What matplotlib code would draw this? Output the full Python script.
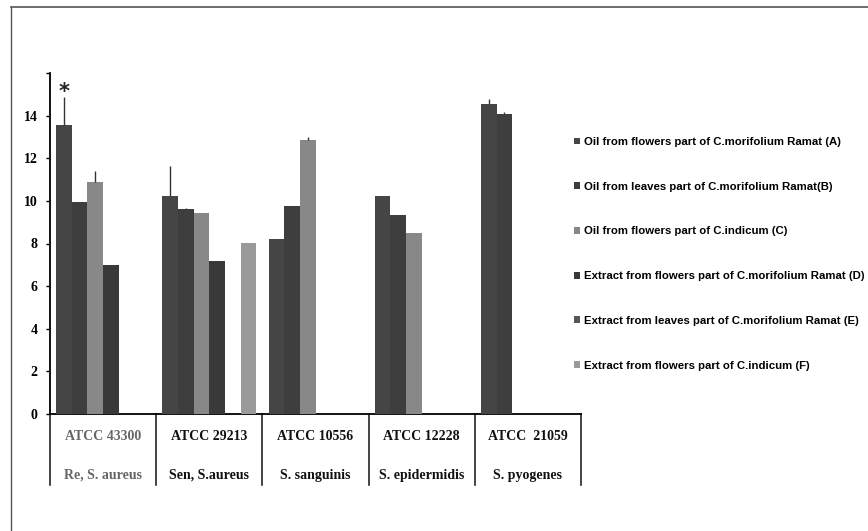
import numpy as np
import matplotlib
matplotlib.use("Agg")
import matplotlib.pyplot as plt
from matplotlib.patches import Patch
from matplotlib.lines import Line2D

# Strains and species (two-row category table under the bars)
strain_codes = ["ATCC 43300", "ATCC 29213", "ATCC 10556", "ATCC 12228", "ATCC  21059"]
species = ["Re, S. aureus", "Sen, S.aureus", "S. sanguinis", "S. epidermidis", "S. pyogenes"]

series_labels = [
    "Oil from flowers part of C.morifolium Ramat (A)",
    "Oil from leaves part of C.morifolium Ramat(B)",
    "Oil from flowers part of C.indicum (C)",
    "Extract from flowers part of C.morifolium Ramat (D)",
    "Extract from leaves part of C.morifolium Ramat (E)",
    "Extract from flowers part of C.indicum (F)",
]

# Inhibition zone values per strain (0 = no bar)
vals_A = [13.55, 10.22, 8.20, 10.22, 14.55]
vals_B = [9.93, 9.60, 9.77, 9.33, 14.08]
vals_C = [10.90, 9.43, 12.86, 8.48, 0.0]
vals_D = [7.00, 7.20, 0.0, 0.0, 0.0]
vals_E = [0.0, 0.0, 0.0, 0.0, 0.0]
vals_F = [0.0, 8.04, 0.0, 0.0, 0.0]

# Upper error extents
err_A = [1.32, 1.42, 0.0, 0.0, 0.25]
err_B = [0.0, 0.05, 0.0, 0.0, 0.10]
err_C = [0.52, 0.0, 0.12, 0.0, 0.0]
err_D = [0.0, 0.0, 0.0, 0.0, 0.0]
err_E = [0.0, 0.0, 0.0, 0.0, 0.0]
err_F = [0.0, 0.0, 0.0, 0.0, 0.0]

values = [vals_A, vals_B, vals_C, vals_D, vals_E, vals_F]
errors = [err_A, err_B, err_C, err_D, err_E, err_F]
colors = ["#454545", "#3e3e3e", "#888888", "#393939", "#575757", "#9a9a9a"]

fig = plt.figure(figsize=(8.68, 5.31), dpi=100)
ax = fig.add_axes([50 / 868, 1 - 414 / 531, 531 / 868, 341 / 531])

n = len(strain_codes)
x = np.arange(n)
bw = 0.147
offsets = (np.arange(6) - 2.5) * bw

for i, (v, e, c) in enumerate(zip(values, errors, colors)):
    v = np.asarray(v)
    e = np.asarray(e)
    mask = v > 0
    ax.bar(x[mask] + offsets[i], v[mask], width=bw, color=c, zorder=3, linewidth=0)
    emask = mask & (e > 0)
    if emask.any():
        ax.errorbar(x[emask] + offsets[i], v[emask],
                    yerr=[np.zeros(emask.sum()), e[emask]],
                    fmt="none", ecolor="#333333", elinewidth=1.0, capsize=0, zorder=4)

ax.set_xlim(-0.5, n - 0.5)
ax.set_ylim(0, 16)
ax.set_yticks(np.arange(0, 17, 2))
ax.set_yticklabels([str(t) for t in range(0, 15, 2)] + [""],
                   fontfamily="Liberation Serif", fontweight="bold", fontsize=10)
ax.set_xticks([])
ax.tick_params(axis="y", length=3, width=1, direction="out", pad=6)
for s in ["top", "right"]:
    ax.spines[s].set_visible(False)
ax.spines["left"].set_linewidth(1.3)
ax.spines["bottom"].set_linewidth(1.3)

# Asterisk over the first bar
ax.text(x[0] + offsets[0], 15.1, "*", ha="center", va="center",
        fontsize=15, fontweight="bold", color="#222222")

# Category table below the axis
ppu = 341 / 16.0
table_bottom = -71 / ppu
for b in np.arange(-0.5, n, 1.0):
    ax.add_line(Line2D([b, b], [0, table_bottom], color="#111111", lw=1.1, clip_on=False))
for i in range(n):
    col = "#666666" if i == 0 else "#111111"
    ax.text(x[i], -23 / ppu, strain_codes[i], ha="center", va="center",
            fontfamily="Liberation Serif", fontweight="bold", fontsize=10, color=col)
    ax.text(x[i], -61 / ppu, species[i], ha="center", va="center",
            fontfamily="Liberation Serif", fontweight="bold", fontsize=10, color=col)

# Legend on the right
handles = [Patch(facecolor=c, edgecolor="none") for c in colors]
leg = fig.legend(handles, series_labels, loc="upper left",
                 bbox_to_anchor=(574 / 868, 1 - 137 / 531),
                 frameon=False, prop={"family": "Liberation Sans", "weight": "bold", "size": 8.2},
                 handlelength=0.55, handleheight=0.55, handletextpad=0.35,
                 labelspacing=3.05, borderpad=0, borderaxespad=0)

# Outer frame (left and top edges)
fig.add_artist(Line2D([11 / 868, 11 / 868], [0, 1 - 7 / 531], color="#555555", lw=1.0))
fig.add_artist(Line2D([11 / 868, 1], [1 - 7 / 531, 1 - 7 / 531], color="#555555", lw=1.2))

fig.savefig("out.png", dpi=100)
